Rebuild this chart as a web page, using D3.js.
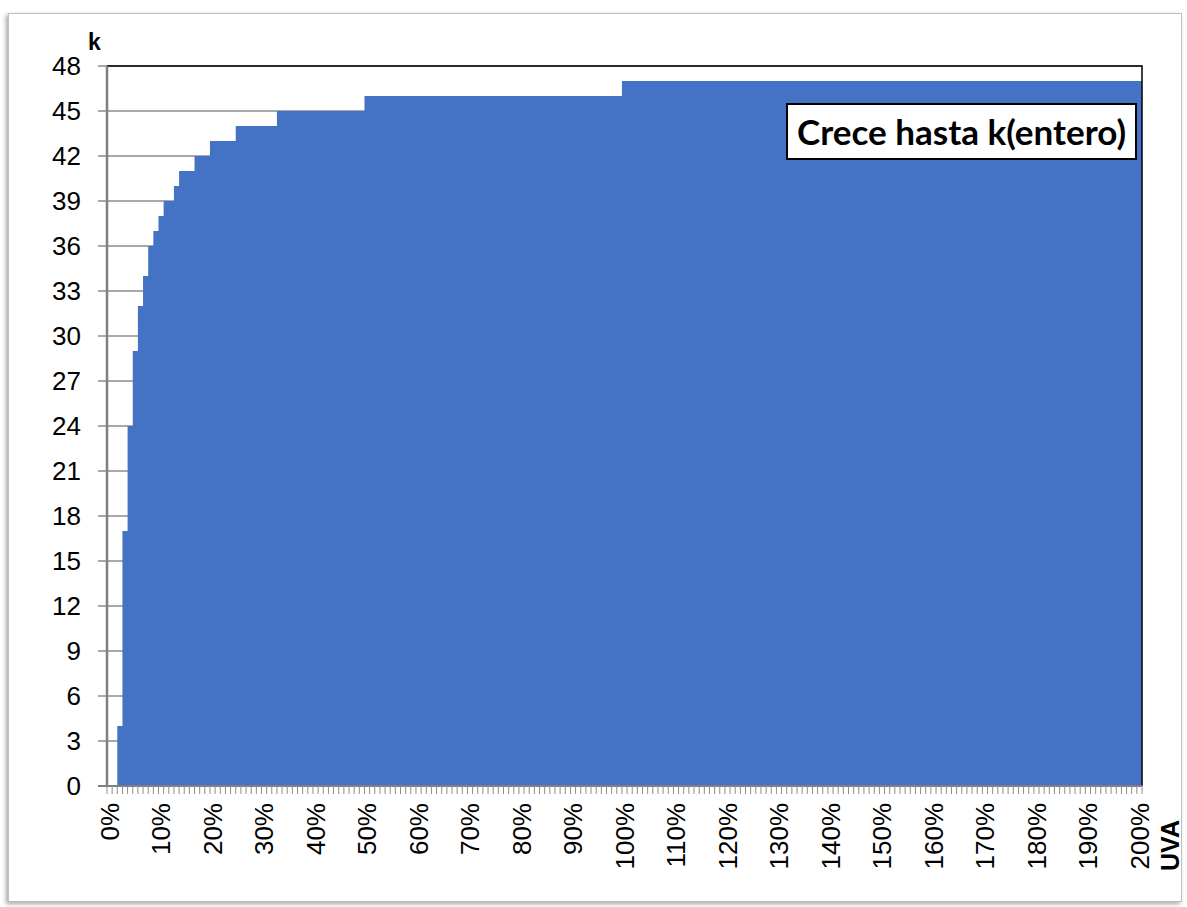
<!DOCTYPE html>
<head>
<meta charset="utf-8">
<title>Crece hasta k</title>
<style>
body { margin: 0; background: #fff; }
</style>
</head>
<body>
<script src="https://d3js.org/d3.v7.min.js"></script>
<script>
// categorias del eje x: 0% .. 200% (UVA)
var categorias = d3.range(0, 201);
var etiquetasX = d3.range(0, 201, 10);
var ticksY = d3.range(0, 49, 3);
// escalones: desde que porcentaje vale k
var desde = [2, 3, 4, 5, 6, 7, 8, 9, 10, 11, 13, 14, 17, 20, 25, 33, 50, 100];
var valorK = [4, 17, 24, 29, 32, 34, 36, 37, 38, 39, 40, 41, 42, 43, 44, 45, 46, 47];

var width = 1187, height = 907;
var mIzq = 107, mDer = 1142, mSup = 66, mInf = 786;

var svg = d3.select('body').append('svg')
  .attr('width', width)
  .attr('height', height);

// sombra del marco
var defs = svg.append('defs');
defs.append('filter').attr('id', 'sombra')
  .attr('x', -0.05).attr('y', -0.05).attr('width', 1.1).attr('height', 1.1)
  .append('feDropShadow')
  .attr('dx', -2).attr('dy', 2).attr('stdDeviation', 2)
  .attr('flood-color', '#000').attr('flood-opacity', 0.35);

svg.append('rect')
  .attr('x', 8.5).attr('y', 13.5)
  .attr('width', 1173).attr('height', 888)
  .attr('fill', '#fff')
  .attr('stroke', '#bfbfbf')
  .attr('filter', 'url(#sombra)');

var x = d3.scaleBand().domain(categorias).range([mIzq, mDer]).padding(0);
var y = d3.scaleLinear().domain([0, 48]).range([mInf, mSup]);

// lineas de division
svg.selectAll('line.grid')
  .data(ticksY)
  .enter()
  .append('line')
  .attr('class', 'grid')
  .attr('x1', mIzq - 9).attr('x2', mDer)
  .attr('y1', function(d) { return y(d); })
  .attr('y2', function(d) { return y(d); })
  .attr('stroke', '#8c8c8c')
  .attr('stroke-width', 1.5);

// area escalonada
var puntos = desde.map(function(d, i) { return { px: x(d), k: valorK[i] }; });
puntos.push({ px: mDer, k: valorK[valorK.length - 1] });

var area = d3.area()
  .curve(d3.curveStepAfter)
  .x(function(d) { return d.px; })
  .y0(y(0))
  .y1(function(d) { return y(d.k); });

svg.append('path')
  .datum(puntos)
  .attr('d', area)
  .attr('fill', '#4472c4');

// borde del area de trazado (arriba y derecha)
svg.append('path')
  .attr('d', 'M' + mIzq + ',' + mSup + 'H' + mDer + 'V' + mInf)
  .attr('fill', 'none')
  .attr('stroke', '#000')
  .attr('stroke-width', 1.5);

// eje y
svg.append('line')
  .attr('x1', mIzq).attr('x2', mIzq)
  .attr('y1', mSup).attr('y2', mInf + 1)
  .attr('stroke', '#808080').attr('stroke-width', 2.5);

svg.selectAll('text.ylab')
  .data(ticksY)
  .enter()
  .append('text')
  .attr('class', 'ylab')
  .attr('x', 81)
  .attr('y', function(d) { return y(d); })
  .attr('dy', '0.36em')
  .attr('text-anchor', 'end')
  .style('font-family', '"Liberation Sans", Arial, sans-serif')
  .style('font-size', '26px')
  .text(function(d) { return d; });

// eje x
svg.append('line')
  .attr('x1', mIzq - 9).attr('x2', mDer)
  .attr('y1', mInf).attr('y2', mInf)
  .attr('stroke', '#808080').attr('stroke-width', 2);

var bordes = categorias.map(function(d) { return x(d); }).concat([mDer]);
svg.selectAll('line.minor')
  .data(bordes)
  .enter()
  .append('line')
  .attr('class', 'minor')
  .attr('x1', function(d) { return d; })
  .attr('x2', function(d) { return d; })
  .attr('y1', mInf).attr('y2', mInf + 8)
  .attr('stroke', '#8c8c8c')
  .attr('stroke-width', 1);

svg.selectAll('text.xlab')
  .data(etiquetasX)
  .enter()
  .append('text')
  .attr('class', 'xlab')
  .attr('transform', function(d) {
    return 'translate(' + (x(d) + x.bandwidth() / 2) + ',803) rotate(-90)';
  })
  .attr('dy', '0.36em')
  .attr('text-anchor', 'end')
  .style('font-family', '"Liberation Sans", Arial, sans-serif')
  .style('font-size', '26px')
  .text(function(d) { return d + '%'; });

// titulos de ejes
svg.append('text')
  .attr('x', 88).attr('y', 50)
  .style('font-family', '"Liberation Sans", Arial, sans-serif')
  .style('font-size', '23px')
  .style('font-weight', 'bold')
  .text('k');

svg.append('text')
  .attr('transform', 'translate(1170,820) rotate(-90)')
  .attr('dy', '0.36em')
  .attr('text-anchor', 'end')
  .style('font-family', '"Liberation Sans", Arial, sans-serif')
  .style('font-size', '25px')
  .style('font-weight', 'bold')
  .text('UVA');

// leyenda
svg.append('rect')
  .attr('x', 787).attr('y', 104)
  .attr('width', 349).attr('height', 55)
  .attr('fill', '#fff')
  .attr('stroke', '#000')
  .attr('stroke-width', 2);

svg.append('text')
  .attr('x', 797).attr('y', 145)
  .attr('textLength', 329)
  .attr('lengthAdjust', 'spacingAndGlyphs')
  .style('font-family', 'Lato, "Open Sans", sans-serif')
  .style('font-size', '34px')
  .style('font-weight', 'bold')
  .text('Crece hasta k(entero)');
</script>
</body>
</html>
